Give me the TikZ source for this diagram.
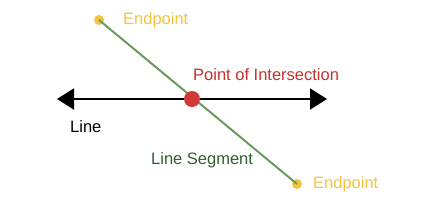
\documentclass[tikz,border=0pt]{standalone}
\usepackage{fontspec}
\setmainfont{Liberation Sans}
\usetikzlibrary{arrows.meta}
\definecolor{ygold}{HTML}{F5C43C}
\definecolor{sgreen}{HTML}{6B9B5B}
\definecolor{dgreen}{HTML}{2F5F2A}
\definecolor{rdot}{HTML}{D03A36}
\definecolor{rtext}{HTML}{C8302C}
\tikzset{
  lbl/.style={font=\fontsize{16.5pt}{18pt}\selectfont, inner sep=0pt},
  enddot/.style={circle, fill=ygold, minimum size=10pt, inner sep=0pt},
  xdot/.style={circle, fill=rdot, minimum size=16pt, inner sep=0pt},
  mainline/.style={line width=2pt, black, {Triangle[length=17pt,width=21pt]}-{Triangle[length=17pt,width=21pt]}},
  segline/.style={line width=2pt, sgreen}
}
\begin{document}
\begin{tikzpicture}[x=1pt,y=-1pt]
\useasboundingbox (0,0) rectangle (432,215);
\coordinate (L) at (57,99);
\coordinate (R) at (327,99);
\node[enddot] (A) at (99,20) {};
\node[enddot] (B) at (297,184) {};
\draw[mainline] (L) -- (R);
\draw[segline] (A.center) -- (B.center);
\node[xdot] (X) at (192,99) {};
\node[lbl, ygold, anchor=west] (tA) at (123,20) {Endpoint};
\node[lbl, ygold, anchor=west] (tB) at (313,184) {Endpoint};
\node[lbl, rtext, anchor=west] (tX) at (193,75) {Point of Intersection};
\node[lbl, black, anchor=west] (tL) at (70,127) {Line};
\node[lbl, dgreen, anchor=west] (tS) at (151,160) {Line Segment};
\end{tikzpicture}
\end{document}
